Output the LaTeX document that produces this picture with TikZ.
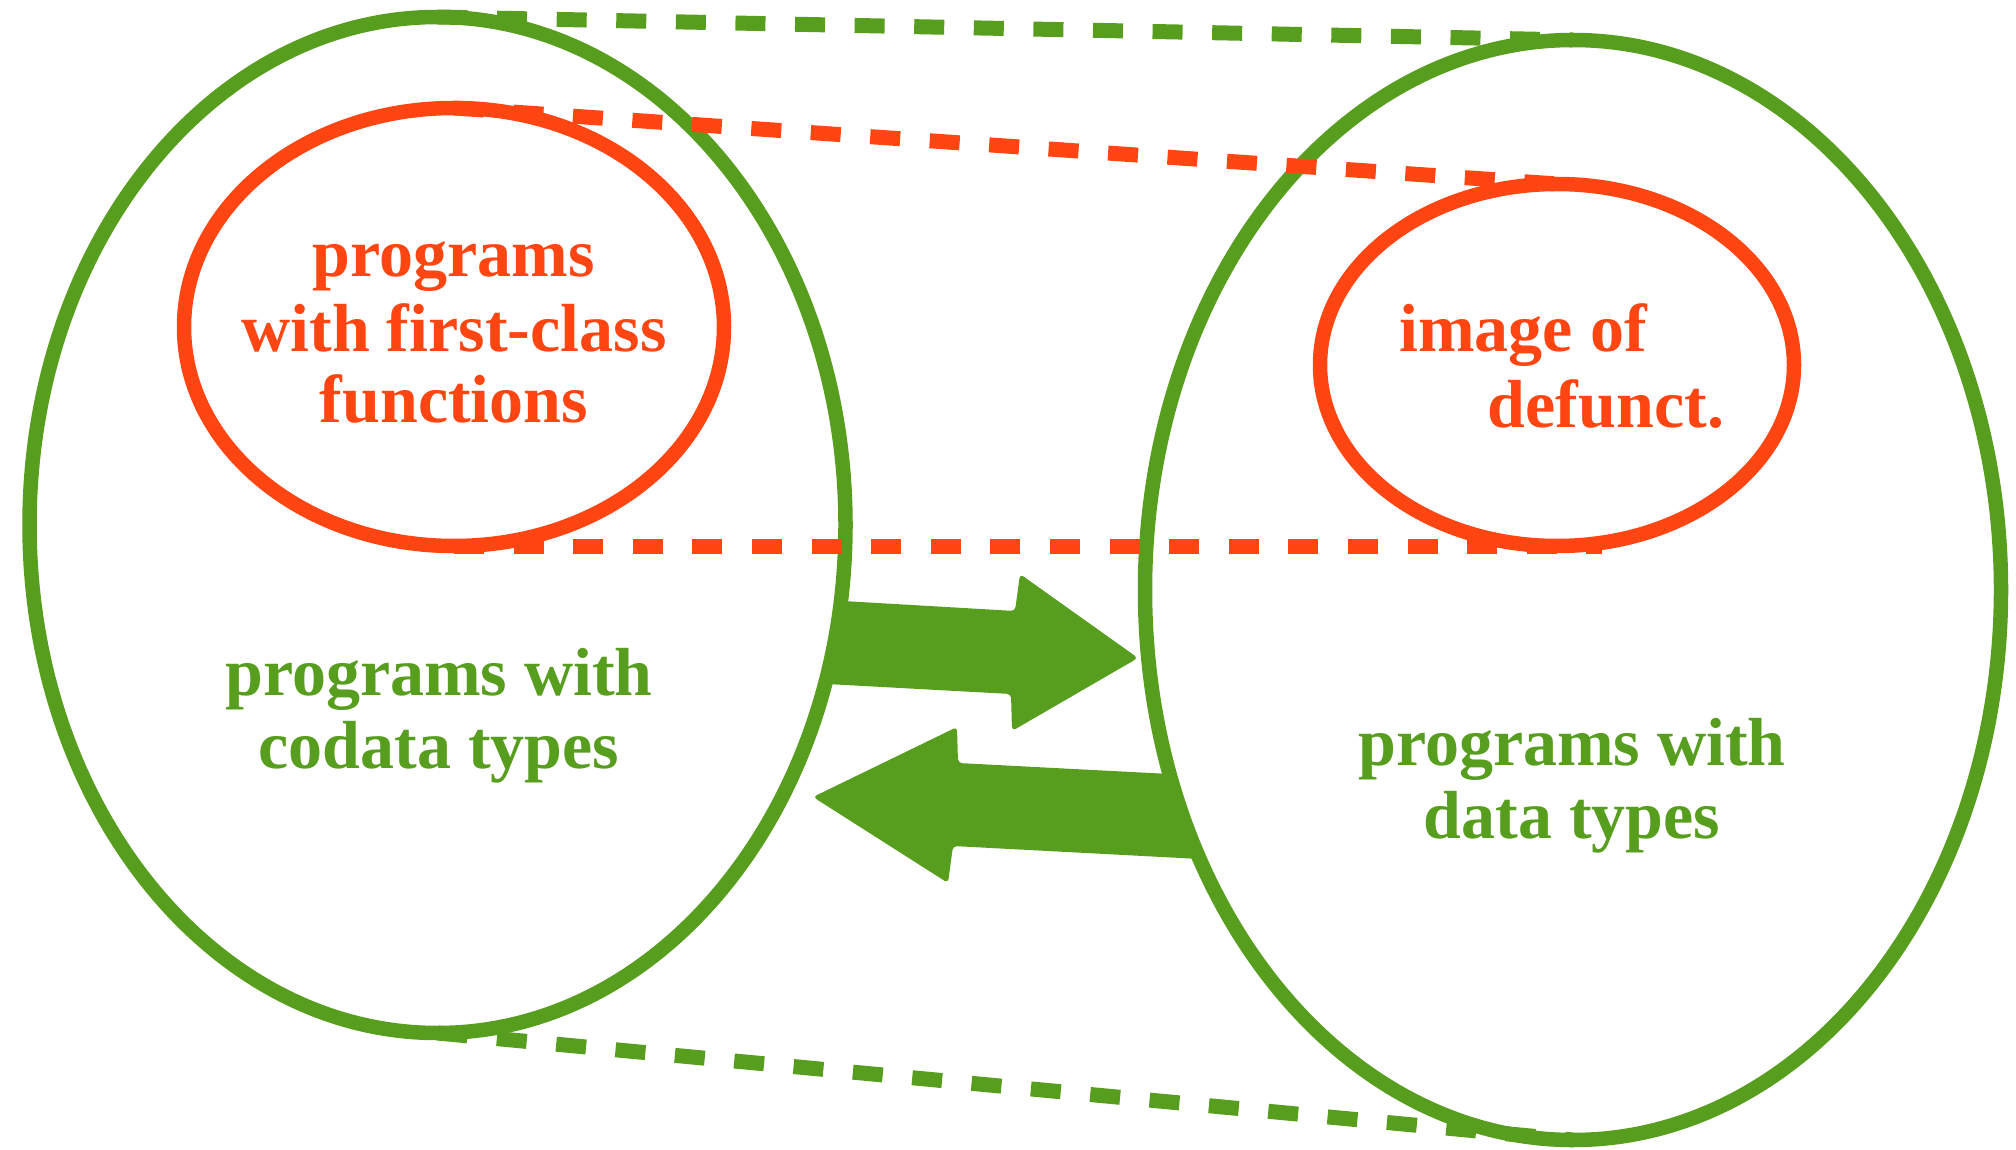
\documentclass[tikz,border=0pt]{standalone}
\usepackage{fontspec}
\setmainfont{Liberation Serif}
\usetikzlibrary{shapes.geometric}
\definecolor{grn}{RGB}{88,158,30}
\definecolor{org}{RGB}{255,69,18}
\tikzset{
  ring/.style={ellipse, draw, line width=14.5pt, inner sep=0pt, outer sep=0pt},
  greenring/.style={ring, draw=grn},
  redring/.style={ring, draw=org},
  link/.style={line width=15pt, dash pattern=on 30pt off 29.6pt},
  greenlink/.style={link, draw=grn},
  redlink/.style={link, draw=org},
  lbl/.style={anchor=base, inner sep=0pt, font=\fontsize{68}{74}\selectfont\bfseries},
  redlbl/.style={lbl, text=org},
  greenlbl/.style={lbl, text=grn},
  bigarrow/.style={fill=grn, draw=none, rounded corners=4pt}
}
\begin{document}
\begin{tikzpicture}[x=1pt,y=-1pt]
\useasboundingbox (0,0) rectangle (2016,1150);
% ellipses
\node[greenring, minimum width=816pt, minimum height=1016pt] (lg) at (437.5,525) {};
\node[greenring, minimum width=856pt, minimum height=1100pt] (rg) at (1573,590) {};
\node[redring, minimum width=540pt, minimum height=438pt] (lr) at (454,327) {};
\node[redring, minimum width=474pt, minimum height=362pt] (rr) at (1557,365) {};
% block arrows
\fill[bigarrow] (843,601) -- (1015,611) -- (1020,574) -- (1138,658) -- (1012,731) -- (1011,694) -- (827,684) -- cycle;
\fill[bigarrow] (1170,774) -- (958,763) -- (957,727) -- (813,797) -- (948,883) -- (953,846) -- (1200,859) -- cycle;
% dashed links
\coordinate (rrend) at ([xshift=45pt]rr.south);
\draw[greenlink] (lg.north) -- (rg.north);
\draw[greenlink] (lg.south) -- (rg.south);
\draw[redlink] (lr.north) -- (rr.north);
\draw[redlink] (lr.south) -- (rrend);
% labels
\node[redlbl] (t1) at (454,277) {programs};
\node[redlbl] (t2) at (454,352) {with first-class};
\node[redlbl] (t3) at (454,422) {functions};
\node[redlbl] (t4) at (1523,351) {image of};
\node[redlbl] (t5) at (1606,427) {defunct.};
\node[greenlbl] (t6) at (439,695) {programs with};
\node[greenlbl] (t7) at (439,768) {codata types};
\node[greenlbl] (t8) at (1572,765) {programs with};
\node[greenlbl] (t9) at (1572,838) {data types};
\end{tikzpicture}
\end{document}
